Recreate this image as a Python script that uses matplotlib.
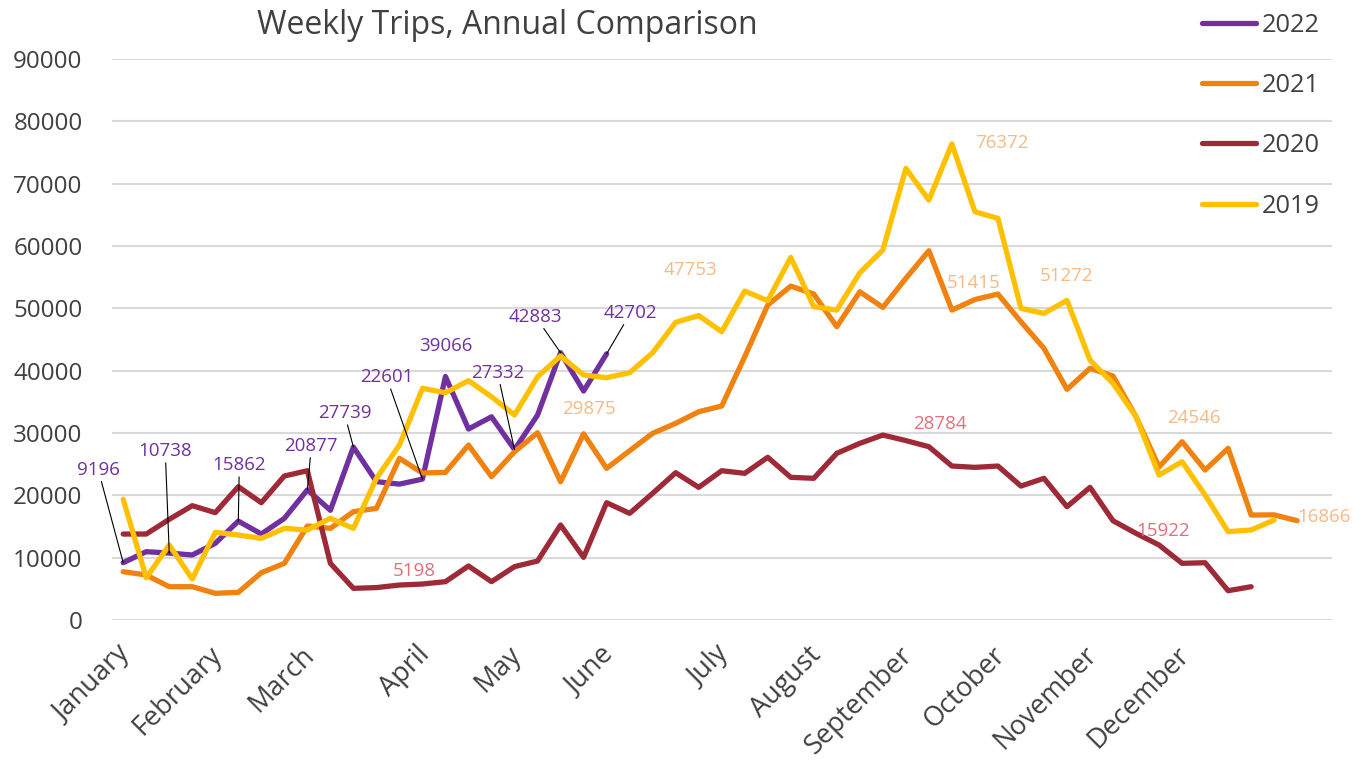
import numpy as np
import matplotlib
matplotlib.use("Agg")
import matplotlib.pyplot as plt
from matplotlib.transforms import ScaledTranslation

# --- data (weekly trips) ---
months = ["January", "February", "March", "April", "May", "June", "July",
          "August", "September", "October", "November", "December"]
month_week = [0, 4, 8, 13, 17, 21, 26, 30, 34, 38, 42, 46]
n_weeks = 53

trips_2022 = [9196, 10960, 10738, 10430, 12300, 15862, 13800, 16300, 20877, 17600,
              27739, 22200, 21800, 22601, 39066, 30640, 32600, 27332, 32880, 42883,
              36730, 42702]

trips_2021 = [7750, 7220, 5340, 5340, 4280, 4440, 7590, 9090, 15080, 14700,
              17380, 17910, 25930, 23580, 23690, 28070, 22990, 27000, 30040, 22180,
              29875, 24330, 27160, 29950, 31550, 33410, 34330, 42230, 50530, 53570,
              52290, 47050, 52660, 50150, 54810, 59240, 49720, 51415, 52290, 47850,
              43580, 37000, 40370, 39140, 32610, 24546, 28600, 24060, 27540, 16840,
              16866, 15930]

trips_2020 = [13790, 13790, 16150, 18340, 17220, 21390, 18820, 23100, 23950, 9090,
              5080, 5198, 5610, 5770, 6150, 8660, 6150, 8560, 9460, 15240,
              10050, 18820, 17110, 20320, 23630, 21280, 23950, 23530, 26100, 22890,
              22730, 26740, 28340, 29670, 28784, 27800, 24700, 24490, 24700, 21490,
              22730, 18180, 21280, 15922, 13900, 12030, 9090, 9190, 4700, 5340]

trips_2019 = [19360, 6790, 12030, 6580, 14070, 13630, 13100, 14700, 14440, 16310,
              14700, 22730, 28070, 37160, 36460, 38390, 35820, 32880, 39030, 42350,
              39300, 38870, 39670, 42880, 47753, 48840, 46250, 52770, 51220, 58170,
              50260, 49720, 55710, 59350, 72450, 67370, 76372, 65500, 64430, 50000,
              49190, 51272, 41700, 37960, 32610, 23260, 25400, 20050, 14170, 14440,
              16040]

# which weeks carry a data label
labels_2022 = [0, 2, 5, 8, 10, 13, 14, 17, 19, 21]
labels_2021 = [20, 37, 45, 50]
labels_2020 = [11, 34, 43]
labels_2019 = [24, 36, 41]

# label offsets in pixels (layout only)
off_2022 = [(-25, 93), (-4, 102), (1, 56), (4, 44), (-9, 34), (-36, 102),
            (0, 30), (-17, 77), (-25, 36), (24, 41)]
off_2021 = [(5, 25), (-1, 17), (35, 49), (50, -2)]
off_2020 = [(38, 17), (34, 17), (50, -10)]
off_2019 = [(15, 52), (50, 1), (0, 24)]

c22, c21, c20, c19 = "#7030A0", "#F0820F", "#9E2A38", "#FFC000"
lab_orange = "#F7B987"
lab_red = "#E0707A"
txt = "#404040"

plt.rcParams['font.family'] = ['Open Sans', 'DejaVu Sans']

fig = plt.figure(figsize=(13.64, 7.61), dpi=100)
ax = fig.add_axes([111.7 / 1364, 141 / 761, 1220 / 1364, 561 / 761])

series = [("2022", trips_2022, c22), ("2021", trips_2021, c21),
          ("2020", trips_2020, c20), ("2019", trips_2019, c19)]
for z, (name, vals, col) in enumerate(series):
    ax.plot(np.arange(len(vals)), vals, color=col, lw=3.8, label=name,
            solid_joinstyle='round', solid_capstyle='round', zorder=3 + z)

def put_labels(vals, idx, offs, color, leader):
    for i, (dx, dy) in zip(idx, offs):
        arrow = None
        if leader and abs(dy) > 32:
            arrow = dict(arrowstyle='-', color='black', lw=0.8,
                         shrinkA=0, shrinkB=0)
        ax.annotate(str(vals[i]), xy=(i, vals[i]), xytext=(dx, dy),
                    textcoords='offset pixels', ha='center', va='center',
                    fontsize=13.5, color=color, arrowprops=arrow, zorder=10)

put_labels(trips_2022, labels_2022, off_2022, c22, True)
put_labels(trips_2021, labels_2021, off_2021, lab_orange, False)
put_labels(trips_2020, labels_2020, off_2020, lab_red, False)
put_labels(trips_2019, labels_2019, off_2019, lab_orange, False)

ax.set_xlim(-0.5, n_weeks - 0.5)
ax.set_ylim(0, 90000)
ax.set_yticks(np.arange(0, 90001, 10000))
ax.yaxis.grid(True, color="#D9D9D9", lw=1.5)
ax.set_axisbelow(True)
for s in ax.spines.values():
    s.set_visible(False)

ax.set_xticks(month_week)
ax.set_xticklabels(months, rotation=45, ha='right', va='top',
                   rotation_mode='anchor')
ax.tick_params(axis='x', length=0, pad=15, labelsize=19.5, labelcolor=txt)
ax.tick_params(axis='y', length=0, pad=21, labelsize=17.4, labelcolor=txt)
shift = ScaledTranslation(-7 / 100, 0, fig.dpi_scale_trans)
for lab in ax.get_xticklabels():
    lab.set_transform(lab.get_transform() + shift)

fig.text(507 / 1364, 1 - 26 / 761, "Weekly Trips, Annual Comparison",
         ha='center', va='center', fontsize=23, color=txt)

fig.legend(loc='upper left', bbox_to_anchor=(1189 / 1364, 1 + 0 / 761),
           frameon=False, fontsize=18.3, handlelength=2.15, handletextpad=0.2,
           labelspacing=1.39, borderpad=0, labelcolor=txt)

fig.savefig("out.png", dpi=100)
